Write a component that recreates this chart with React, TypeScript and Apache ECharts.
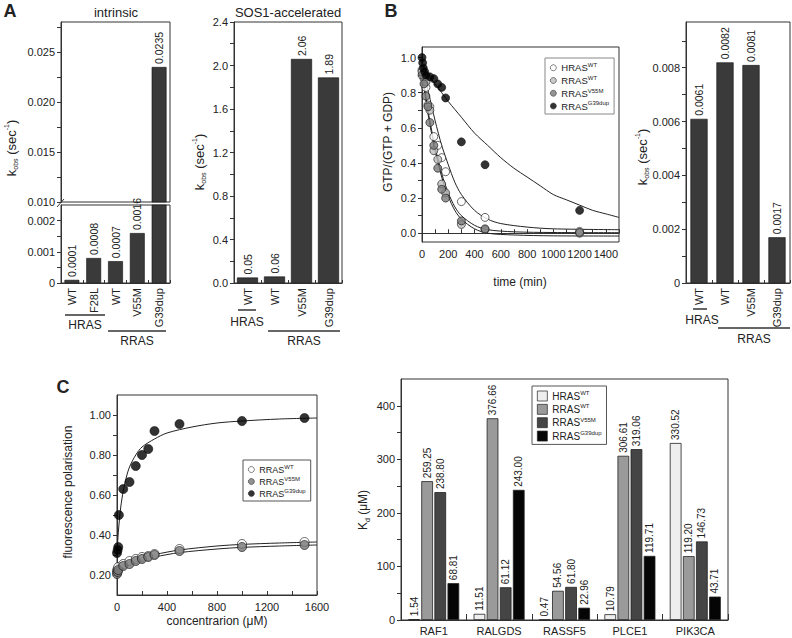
import React, { useEffect, useRef } from "react";
import * as echarts from "echarts";

const FONT = "'Liberation Sans', Arial, sans-serif";
const INK = "#222";

// ---------- Panel A : intrinsic ----------
const intrinsicLabels = ["WT", "F28L", "WT", "V55M", "G39dup"];
const intrinsicValues = [0.0001, 0.0008, 0.0007, 0.0016, 0.0235];
const intrinsicUpperTickLabels = [0.01, 0.015, 0.02, 0.025];
const intrinsicUpperTicks = [0.01, 0.0125, 0.015, 0.0175, 0.02, 0.0225, 0.025, 0.0275];
const intrinsicLowerTickLabels = [0, 0.001, 0.002];
const intrinsicLowerTicks = [0, 0.0005, 0.001, 0.0015, 0.002];

// ---------- Panel A : SOS1-accelerated ----------
const sosLabels = ["WT", "WT", "V55M", "G39dup"];
const sosValues = [0.05, 0.06, 2.06, 1.89];
const sosTickLabels = [0, 0.4, 0.8, 1.2, 1.6, 2.0, 2.4];
const sosTicks = [0, 0.2, 0.4, 0.6, 0.8, 1.0, 1.2, 1.4, 1.6, 1.8, 2.0, 2.2, 2.4];

// ---------- Panel B : time course ----------
const bHrasWT = [[0, 0.93], [30, 0.83], [60, 0.72], [90, 0.55], [120, 0.5], [150, 0.43], [180, 0.35], [300, 0.18], [480, 0.09], [1200, 0.01]];
const bRrasWT = [[0, 0.92], [15, 0.88], [30, 0.86], [45, 0.73], [60, 0.7], [90, 0.47], [120, 0.42], [150, 0.28], [180, 0.23], [300, 0.05], [480, 0.02], [1200, 0.0]];
const bRrasV55M = [[0, 0.9], [15, 0.85], [30, 0.78], [45, 0.72], [60, 0.63], [90, 0.5], [120, 0.37], [150, 0.25], [180, 0.2], [300, 0.07], [480, 0.025], [1200, 0.005]];
const bRrasG39dup = [[0, 1.0], [5, 0.97], [10, 0.94], [20, 0.92], [30, 0.9], [60, 0.89], [90, 0.88], [120, 0.85], [150, 0.83], [180, 0.77], [300, 0.52], [480, 0.39], [1200, 0.13]];
const bFitHrasWT = [[0, 0.96], [25, 0.88], [50, 0.8], [75, 0.72], [100, 0.64], [150, 0.5], [200, 0.39], [250, 0.29], [300, 0.22], [400, 0.13], [500, 0.08], [600, 0.055], [800, 0.035], [1000, 0.025], [1500, 0.02]];
const bFitRrasWT = [[0, 0.93], [25, 0.8], [50, 0.68], [75, 0.58], [100, 0.49], [150, 0.34], [200, 0.23], [250, 0.15], [300, 0.1], [400, 0.045], [500, 0.02], [700, 0.008], [1000, 0.004], [1500, 0.003]];
const bFitRrasV55M = [[0, 0.92], [25, 0.78], [50, 0.66], [75, 0.56], [100, 0.47], [150, 0.32], [200, 0.21], [250, 0.13], [300, 0.08], [400, 0.025], [500, 0.0], [700, -0.01], [1000, -0.015], [1500, -0.016]];
const bFitRrasG39dup = [[0, 0.96], [50, 0.9], [100, 0.85], [150, 0.8], [200, 0.75], [300, 0.66], [400, 0.57], [500, 0.5], [600, 0.43], [700, 0.37], [800, 0.32], [900, 0.27], [1000, 0.22], [1100, 0.19], [1200, 0.16], [1300, 0.13], [1400, 0.11], [1500, 0.09]];
const bTimeTickLabels = [0, 200, 400, 600, 800, 1000, 1200, 1400];
const bTimeTicks = [0, 100, 200, 300, 400, 500, 600, 700, 800, 900, 1000, 1100, 1200, 1300, 1400, 1500];
const bFracTickLabels = [0, 0.2, 0.4, 0.6, 0.8, 1.0];
const bFracTicks = [0, 0.1, 0.2, 0.3, 0.4, 0.5, 0.6, 0.7, 0.8, 0.9, 1.0];

// ---------- Panel B : k_obs bars ----------
const nucLabels = ["WT", "WT", "V55M", "G39dup"];
const nucValues = [0.0061, 0.0082, 0.0081, 0.0017];
const nucTickLabels = [0, 0.002, 0.004, 0.006, 0.008];
const nucTicks = [0, 0.001, 0.002, 0.003, 0.004, 0.005, 0.006, 0.007, 0.008, 0.009];

// ---------- Panel C : fluorescence polarisation ----------
const cRrasWT = [[0, 0.22], [5, 0.23], [10, 0.24], [50, 0.255], [100, 0.27], [150, 0.28], [200, 0.29], [250, 0.295], [300, 0.305], [500, 0.33], [1000, 0.355], [1500, 0.365]];
const cRrasV55M = [[0, 0.205], [5, 0.215], [10, 0.225], [50, 0.245], [100, 0.255], [150, 0.27], [200, 0.28], [250, 0.29], [300, 0.3], [500, 0.32], [1000, 0.34], [1500, 0.35]];
const cRrasG39dup = [[0, 0.31], [5, 0.325], [10, 0.34], [15, 0.5], [50, 0.63], [100, 0.665], [150, 0.745], [200, 0.8], [250, 0.83], [300, 0.92], [500, 0.955], [1000, 0.97], [1500, 0.985]];
const cFitRrasWT = [[0, 0.235], [100, 0.265], [200, 0.287], [300, 0.302], [500, 0.325], [800, 0.345], [1000, 0.353], [1300, 0.36], [1600, 0.365]];
const cFitRrasV55M = [[0, 0.225], [100, 0.255], [200, 0.275], [300, 0.29], [500, 0.312], [800, 0.33], [1000, 0.338], [1300, 0.345], [1600, 0.35]];
const cFitRrasG39dup = [[0, 0.3], [5, 0.36], [10, 0.41], [20, 0.48], [30, 0.54], [50, 0.62], [75, 0.69], [100, 0.74], [150, 0.8], [200, 0.84], [300, 0.88], [400, 0.91], [600, 0.94], [800, 0.96], [1000, 0.97], [1300, 0.98], [1600, 0.985]];
const cConcTickLabels = [0, 400, 800, 1200, 1600];
const cConcTicks = [0, 200, 400, 600, 800, 1000, 1200, 1400, 1600];
const cFpTickLabels = [0.2, 0.4, 0.6, 0.8, 1.0];
const cFpTicks = [0.2, 0.3, 0.4, 0.5, 0.6, 0.7, 0.8, 0.9, 1.0];

// ---------- Panel C : Kd bars ----------
const kdCategories = ["RAF1", "RALGDS", "RASSF5", "PLCE1", "PIK3CA"];
const kdHrasWT = [1.54, 11.51, 0.47, 10.79, 330.52];
const kdRrasWT = [259.25, 376.66, 54.56, 306.61, 119.2];
const kdRrasV55M = [238.8, 61.12, 61.8, 319.06, 146.73];
const kdRrasG39dup = [68.81, 243.0, 22.96, 119.71, 43.71];
const kdTickLabels = [0, 100, 200, 300, 400];
const kdTicks = [0, 50, 100, 150, 200, 250, 300, 350, 400];

const legendNames: Record<string, string> = {
  bH: "{n|HRAS}{s|WT}",
  bR: "{n|RRAS}{s|WT}",
  bV: "{n|RRAS}{s|V55M}",
  bG: "{n|RRAS}{s|G39dup}",
  cR: "{n|RRAS}{s|WT}",
  cV: "{n|RRAS}{s|V55M}",
  cG: "{n|RRAS}{s|G39dup}",
  kH: "{n|HRAS}{s|WT}",
  kR: "{n|RRAS}{s|WT}",
  kV: "{n|RRAS}{s|V55M}",
  kG: "{n|RRAS}{s|G39dup}",
};

const gridBox = { show: true, borderColor: "#333", borderWidth: 1, backgroundColor: "transparent" };

function valAxis(gridIndex: number, min: number, max: number, labels: number[], ticks: number[], fmt: (v: number) => string, inside = false) {
  return {
    type: "value",
    gridIndex,
    min,
    max,
    axisLine: { show: true, lineStyle: { color: "#333", width: 1 } },
    axisTick: { show: true, customValues: ticks, length: 4, inside, lineStyle: { color: "#333" } },
    axisLabel: { customValues: labels, formatter: fmt, color: INK, fontSize: 11, fontFamily: FONT, margin: 6 },
    splitLine: { show: false },
  };
}

function catAxis(gridIndex: number, data: string[], rotate: number, show = true, tickLen = 3) {
  return {
    type: "category",
    gridIndex,
    data,
    show,
    axisLine: { show: true, lineStyle: { color: "#333", width: 1 } },
    axisTick: { show: true, inside: true, length: tickLen, alignWithLabel: false, lineStyle: { color: "#333" } },
    axisLabel: { rotate, color: INK, fontSize: 11, fontFamily: FONT, margin: 5, interval: 0 },
    splitLine: { show: false },
  };
}

const barLabel = (fmt: (i: number) => string, size = 10.5) => ({
  show: true,
  position: "top",
  rotate: 90,
  align: "left",
  verticalAlign: "middle",
  distance: 3,
  color: INK,
  fontSize: size,
  fontFamily: FONT,
  formatter: (p: any) => fmt(p.dataIndex),
});

function txt(x: number, y: number, text: string, size: number, opts: any = {}) {
  return {
    type: "text",
    x,
    y,
    rotation: opts.rotation || 0,
    z: 100,
    style: {
      text,
      fill: INK,
      fontSize: size,
      fontFamily: FONT,
      fontWeight: opts.bold ? "bold" : "normal",
      align: opts.align || "center",
      verticalAlign: "middle",
      rich: opts.rich,
    },
  };
}

function hline(x1: number, x2: number, y: number) {
  return { type: "line", z: 100, shape: { x1, y1: y, x2, y2: y }, style: { stroke: "#333", lineWidth: 1.5 } };
}

const kRich = {
  a: { fontSize: 13, fontFamily: FONT, fill: INK, lineHeight: 16 },
  b: { fontSize: 7, fontFamily: FONT, fill: INK, verticalAlign: "bottom", lineHeight: 16 },
  c: { fontSize: 7, fontFamily: FONT, fill: INK, verticalAlign: "top", lineHeight: 10 },
};
const kobsText = "{a|k}{b|obs}{a| (sec}{c|-1}{a|)}";

function scatter(name: string, data: number[][], x: number, y: number, color: string, size: number) {
  return {
    type: "scatter",
    name,
    xAxisIndex: x,
    yAxisIndex: y,
    data,
    symbol: "circle",
    symbolSize: size,
    clip: false,
    z: 5,
    itemStyle: { color, borderColor: "#111", borderWidth: 0.8 },
  };
}

function fit(data: number[][], x: number, y: number) {
  return {
    type: "line",
    xAxisIndex: x,
    yAxisIndex: y,
    data,
    showSymbol: false,
    symbol: "none",
    smooth: 0.3,
    z: 3,
    lineStyle: { color: "#222", width: 1 },
  };
}

function kdBar(name: string, values: number[], color: string) {
  return {
    type: "bar",
    name,
    xAxisIndex: 6,
    yAxisIndex: 6,
    data: values,
    barGap: "12%",
    barCategoryGap: "22%",
    itemStyle: { color, borderColor: "#222", borderWidth: 0.8 },
    label: barLabel((i) => values[i].toFixed(2), 10),
  };
}

function legendCfg(names: string[], left: number, top: number, icon: string, size: number, border: string, fs: number) {
  return {
    data: names,
    orient: "vertical",
    left,
    top,
    icon,
    itemWidth: size,
    itemHeight: size,
    itemGap: 2,
    padding: [4, 5, 3, 5],
    borderColor: border,
    borderWidth: 1,
    backgroundColor: "#fff",
    z: 20,
    selectedMode: false,
    itemStyle: { borderWidth: 0.7, borderColor: "#222" },
    formatter: (n: string) => legendNames[n],
    textStyle: {
      color: INK,
      fontFamily: FONT,
      rich: {
        n: { fontSize: fs, fontFamily: FONT, color: INK, lineHeight: fs + 2 },
        s: { fontSize: 6, fontFamily: FONT, color: INK, verticalAlign: "top", lineHeight: 7 },
      },
    },
  };
}

export default function App() {
  const ref = useRef<HTMLDivElement>(null);
  useEffect(() => {
    if (!ref.current) return;
    const chart = echarts.init(ref.current, undefined, { renderer: "svg" });
    const fmt3 = (v: number) => (v === 0 ? "0" : v.toFixed(3));
    const option: any = {
      animation: false,
      backgroundColor: "#fff",
      textStyle: { fontFamily: FONT },
      grid: [
        { left: 61, top: 22, width: 109, height: 180, ...gridBox },
        { left: 61, top: 205, width: 109, height: 78, ...gridBox },
        { left: 234, top: 22, width: 108, height: 261, ...gridBox },
        { left: 422, top: 47, width: 197, height: 195, ...gridBox },
        { left: 686, top: 22, width: 104, height: 261, ...gridBox },
        { left: 117, top: 395, width: 200, height: 200, ...gridBox },
        { left: 401, top: 379, width: 327, height: 241, ...gridBox },
      ],
      xAxis: [
        catAxis(0, intrinsicLabels, 90, false),
        catAxis(1, intrinsicLabels, 90),
        catAxis(2, sosLabels, 90),
        { ...valAxis(3, 0, 1500, bTimeTickLabels, bTimeTicks, (v) => String(v), true) },
        catAxis(4, nucLabels, 90),
        { ...valAxis(5, 0, 1600, cConcTickLabels, cConcTicks, (v) => String(v), true) },
        catAxis(6, kdCategories, 0, true, 6),
      ],
      yAxis: [
        valAxis(0, 0.01, 0.028, intrinsicUpperTickLabels, intrinsicUpperTicks, (v) => v.toFixed(3)),
        valAxis(1, 0, 0.0025, intrinsicLowerTickLabels, intrinsicLowerTicks, fmt3),
        valAxis(2, 0, 2.4, sosTickLabels, sosTicks, (v) => v.toFixed(1)),
        valAxis(3, -0.05, 1.06, bFracTickLabels, bFracTicks, (v) => v.toFixed(1)),
        valAxis(4, 0, 0.0097, nucTickLabels, nucTicks, fmt3),
        valAxis(5, 0.1, 1.1, cFpTickLabels, cFpTicks, (v) => v.toFixed(2)),
        valAxis(6, 0, 450, kdTickLabels, kdTicks, (v) => String(v)),
      ],
      legend: [
        legendCfg(["bH", "bR", "bV", "bG"], 545, 58, "circle", 6, "#888", 9.5),
        legendCfg(["cR", "cV", "cG"], 243, 460, "circle", 6, "#555", 9),
        legendCfg(["kH", "kR", "kV", "kG"], 532, 386, "rect", 10, "#555", 10),
      ],
      series: [
        {
          type: "bar",
          xAxisIndex: 0,
          yAxisIndex: 0,
          barWidth: "68%",
          data: intrinsicValues.map((v) => (v >= 0.01 ? v : "-")),
          itemStyle: { color: "#3a3a3a", borderColor: "#111", borderWidth: 0.6 },
          label: barLabel((i) => String(intrinsicValues[i])),
        },
        {
          type: "bar",
          xAxisIndex: 1,
          yAxisIndex: 1,
          barWidth: "68%",
          data: intrinsicValues.map((v) => ({ value: v, label: { show: v < 0.01 } })),
          itemStyle: { color: "#3a3a3a", borderColor: "#111", borderWidth: 0.6 },
          label: barLabel((i) => String(intrinsicValues[i])),
        },
        {
          type: "bar",
          xAxisIndex: 2,
          yAxisIndex: 2,
          barWidth: "78%",
          data: sosValues,
          itemStyle: { color: "#3a3a3a", borderColor: "#111", borderWidth: 0.6 },
          label: barLabel((i) => sosValues[i].toFixed(2)),
        },
        fit(bFitHrasWT, 3, 3),
        fit(bFitRrasWT, 3, 3),
        fit(bFitRrasV55M, 3, 3),
        fit(bFitRrasG39dup, 3, 3),
        scatter("bH", bHrasWT, 3, 3, "#ffffff", 8),
        scatter("bR", bRrasWT, 3, 3, "#bdbdbd", 8),
        scatter("bV", bRrasV55M, 3, 3, "#7a7a7a", 8),
        scatter("bG", bRrasG39dup, 3, 3, "#000000", 8),
        {
          type: "bar",
          xAxisIndex: 4,
          yAxisIndex: 4,
          barWidth: "66%",
          data: nucValues,
          itemStyle: { color: "#3a3a3a", borderColor: "#111", borderWidth: 0.6 },
          label: barLabel((i) => String(nucValues[i])),
        },
        fit(cFitRrasWT, 5, 5),
        fit(cFitRrasV55M, 5, 5),
        fit(cFitRrasG39dup, 5, 5),
        scatter("cR", cRrasWT, 5, 5, "#ffffff", 9),
        scatter("cV", cRrasV55M, 5, 5, "#777777", 9),
        scatter("cG", cRrasG39dup, 5, 5, "#000000", 9),
        kdBar("kH", kdHrasWT, "#eeeeee"),
        kdBar("kR", kdRrasWT, "#9a9a9a"),
        kdBar("kV", kdRrasV55M, "#454545"),
        kdBar("kG", kdRrasG39dup, "#050505"),
      ],
      graphic: [
        txt(10, 11, "A", 18, { bold: true }),
        txt(391, 11, "B", 18, { bold: true }),
        txt(63, 387, "C", 18, { bold: true }),
        txt(116, 12, "intrinsic", 13),
        txt(288, 12, "SOS1-accelerated", 13),
        txt(11, 148, kobsText, 13, { rotation: Math.PI / 2, rich: kRich }),
        txt(199, 162, kobsText, 13, { rotation: Math.PI / 2, rich: kRich }),
        txt(642, 157, kobsText, 13, { rotation: Math.PI / 2, rich: kRich }),
        txt(388, 142, "GTP/(GTP + GDP)", 12, { rotation: Math.PI / 2 }),
        txt(520, 282, "time (min)", 12),
        txt(68, 492, "fluorescence polarisation", 12, { rotation: Math.PI / 2 }),
        txt(217, 621, "concentrarion (μM)", 12),
        txt(363, 510, "{a|K}{b|d}{a| (μM)}", 12, {
          rotation: Math.PI / 2,
          rich: {
            a: { fontSize: 12, fontFamily: FONT, fill: INK, lineHeight: 15 },
            b: { fontSize: 7, fontFamily: FONT, fill: INK, verticalAlign: "bottom", lineHeight: 15 },
          },
        }),
        { type: "line", z: 100, shape: { x1: 57, y1: 207, x2: 64, y2: 199 }, style: { stroke: "#333", lineWidth: 1 } },
        hline(65, 105, 315),
        txt(85, 325, "HRAS", 12),
        hline(108, 166, 331),
        txt(137, 341, "RRAS", 12),
        hline(238, 256, 310),
        txt(247, 322, "HRAS", 12),
        hline(268, 340, 331),
        txt(304, 341, "RRAS", 12),
        hline(693, 707, 309),
        txt(702, 320, "HRAS", 12),
        hline(718, 790, 328),
        txt(754, 339, "RRAS", 12),
      ],
    };
    chart.setOption(option);
    return () => chart.dispose();
  }, []);
  return (
    <div
      ref={ref}
      style={{ position: "fixed", left: 0, top: 0, width: 792, height: 638, background: "#fff" }}
    />
  );
}
